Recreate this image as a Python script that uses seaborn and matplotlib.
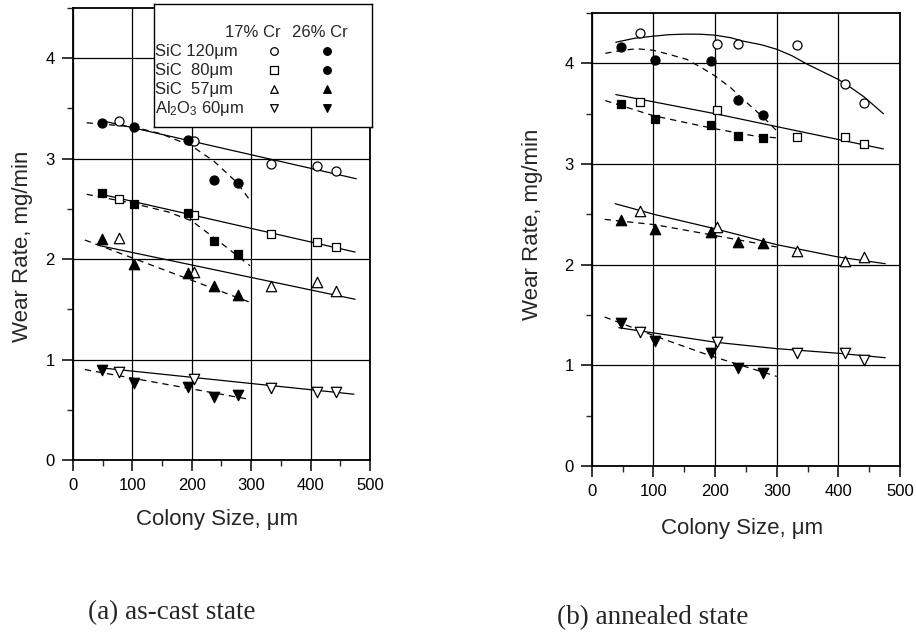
import numpy as np
import pandas as pd
import matplotlib
matplotlib.use('Agg')
import matplotlib.pyplot as plt
import seaborn as sns
from matplotlib.ticker import MultipleLocator

sns.set_style('ticks')
plt.rcParams['font.family'] = ['Liberation Sans', 'DejaVu Sans']
plt.rcParams['mathtext.fontset'] = 'custom'
plt.rcParams['mathtext.rm'] = 'Liberation Sans'
plt.rcParams['mathtext.it'] = 'Liberation Sans:italic'

# colony sizes (um)
size_17 = [78, 203, 333, 411, 442]
size_17_b120 = [78, 203, 237, 333, 411, 442]
size_26 = [48, 102, 193, 237, 278]

grits = ['SiC 120μm', 'SiC  80μm', 'SiC  57μm', 'Al$_2$O$_3$ 60μm']
cr_labels = ['17% Cr', '26% Cr']

# (a) as-cast state, wear rate mg/min
a_sic120_17 = [3.37, 3.18, 2.95, 2.93, 2.88]
a_sic120_26 = [3.35, 3.32, 3.185, 2.79, 2.76]
a_sic80_17 = [2.60, 2.44, 2.25, 2.17, 2.125]
a_sic80_26 = [2.66, 2.545, 2.455, 2.185, 2.05]
a_sic57_17 = [2.21, 1.87, 1.735, 1.775, 1.685]
a_sic57_26 = [2.20, 1.95, 1.865, 1.735, 1.645]
a_al_17 = [0.88, 0.805, 0.715, 0.68, 0.68]
a_al_26 = [0.90, 0.77, 0.73, 0.625, 0.65]

# (b) annealed state
b_sic120_17 = [4.30, 4.19, 4.19, 4.18, 3.80, 3.61]
b_sic120_26 = [4.16, 4.03, 4.02, 3.635, 3.49]
b_sic80_17 = [3.62, 3.54, 3.265, 3.265, 3.195]
b_sic80_26 = [3.60, 3.45, 3.39, 3.28, 3.255]
b_sic57_17 = [2.53, 2.375, 2.135, 2.04, 2.075]
b_sic57_26 = [2.44, 2.355, 2.32, 2.225, 2.215]
b_al_17 = [1.335, 1.23, 1.125, 1.125, 1.055]
b_al_26 = [1.425, 1.245, 1.127, 0.977, 0.927]

# fitted curves (solid = 17% Cr, dashed = 26% Cr)
a_fit = {
    ('SiC120', 17): ([47, 477], [3.38, 2.80]),
    ('SiC120', 26): ([23, 100, 148, 200, 237, 276, 300], [3.357, 3.318, 3.248, 3.125, 2.976, 2.762, 2.569]),
    ('SiC80', 17): ([48, 475], [2.645, 2.07]),
    ('SiC80', 26): ([23, 100, 160, 200, 248, 298], [2.645, 2.556, 2.47, 2.38, 2.166, 1.934]),
    ('SiC57', 17): ([48, 475], [2.13, 1.60]),
    ('SiC57', 26): ([20, 298], [2.19, 1.57]),
    ('Al2O3', 17): ([43, 473], [0.92, 0.655]),
    ('Al2O3', 26): ([20, 296], [0.90, 0.605]),
}
b_fit = {
    ('SiC120', 17): ([39, 70, 100, 125, 149, 175, 200, 225, 246, 275, 300, 325, 350, 375, 400, 420, 441, 458, 473],
                     [4.21, 4.25, 4.27, 4.285, 4.29, 4.29, 4.28, 4.255, 4.22, 4.185, 4.14, 4.075, 3.99, 3.915,
                      3.84, 3.76, 3.67, 3.58, 3.50]),
    ('SiC120', 26): ([22, 50, 73, 100, 125, 154, 180, 200, 225, 246, 266, 284, 300],
                     [4.10, 4.13, 4.145, 4.13, 4.09, 4.04, 3.95, 3.875, 3.76, 3.64, 3.53, 3.43, 3.33]),
    ('SiC80', 17): ([39, 200, 473], [3.69, 3.50, 3.15]),
    ('SiC80', 26): ([22, 100, 200, 263, 300], [3.63, 3.48, 3.35, 3.28, 3.26]),
    ('SiC57', 17): ([38, 103, 200, 300, 400, 476], [2.606, 2.497, 2.357, 2.199, 2.076, 2.01]),
    ('SiC57', 26): ([21, 103, 200, 300], [2.45, 2.397, 2.29, 2.176]),
    ('Al2O3', 17): ([44, 200, 300, 400, 476], [1.374, 1.23, 1.166, 1.12, 1.076]),
    ('Al2O3', 26): ([21, 103, 190, 300], [1.48, 1.29, 1.10, 0.89]),
}

markers = {'SiC120': 'o', 'SiC80': 's', 'SiC57': '^', 'Al2O3': 'v'}
msize = {'o': 6.5, 's': 6.0, '^': 7.5, 'v': 7.5}
# legend symbols (the 26% Cr SiC 80 key is a filled circle in the original)
leg_open = ['o', 's', '^', 'v']
leg_fill = ['o', 'o', '^', 'v']


def points(a_or_b):
    rows = []
    if a_or_b == 'a':
        series = [('SiC120', 17, size_17, a_sic120_17), ('SiC120', 26, size_26, a_sic120_26),
                  ('SiC80', 17, size_17, a_sic80_17), ('SiC80', 26, size_26, a_sic80_26),
                  ('SiC57', 17, size_17, a_sic57_17), ('SiC57', 26, size_26, a_sic57_26),
                  ('Al2O3', 17, size_17, a_al_17), ('Al2O3', 26, size_26, a_al_26)]
    else:
        series = [('SiC120', 17, size_17_b120, b_sic120_17), ('SiC120', 26, size_26, b_sic120_26),
                  ('SiC80', 17, size_17, b_sic80_17), ('SiC80', 26, size_26, b_sic80_26),
                  ('SiC57', 17, size_17, b_sic57_17), ('SiC57', 26, size_26, b_sic57_26),
                  ('Al2O3', 17, size_17, b_al_17), ('Al2O3', 26, size_26, b_al_26)]
    for grit, cr, xs, ys in series:
        for x, y in zip(xs, ys):
            rows.append({'grit': grit, 'cr': cr, 'size': x, 'rate': y})
    return pd.DataFrame(rows)


def draw_panel(ax, df, fits):
    for (grit, cr), (fx, fy) in fits.items():
        ls = '-' if cr == 17 else (0, (5, 4))
        sns.lineplot(x=fx, y=fy, ax=ax, color='black', lw=0.9, linestyle=ls,
                     sort=False, estimator=None, zorder=2)
    for (grit, cr), g in df.groupby(['grit', 'cr']):
        m = markers[grit]
        face = 'white' if cr == 17 else 'black'
        sns.scatterplot(data=g, x='size', y='rate', ax=ax, marker=m, s=msize[m] ** 2,
                        color=face, edgecolor='black', linewidth=0.9, zorder=3, legend=False)

    ax.set_xlim(0, 500)
    ax.set_ylim(0, 4.5)
    ax.xaxis.set_major_locator(MultipleLocator(100))
    ax.xaxis.set_minor_locator(MultipleLocator(50))
    ax.yaxis.set_major_locator(MultipleLocator(1))
    ax.yaxis.set_minor_locator(MultipleLocator(0.5))
    ax.grid(True, which='major', color='black', lw=0.9)
    ax.tick_params(which='major', direction='out', length=8, width=1.1, labelsize=12, colors='black', pad=5)
    ax.tick_params(which='minor', direction='out', length=4, width=1.0)
    for sp in ax.spines.values():
        sp.set_visible(True)
        sp.set_color('black')
        sp.set_linewidth(1.3)
    ax.set_xlabel('Colony Size, μm', fontsize=16)
    ax.set_ylabel('Wear Rate, mg/min', fontsize=16)


fig = plt.figure(figsize=(9.16, 6.33), dpi=100)
ax_a = fig.add_axes([0.0797, 0.2733, 0.3242, 0.7141])
ax_b = fig.add_axes([0.6460, 0.2638, 0.3366, 0.7156])

draw_panel(ax_a, points('a'), a_fit)
draw_panel(ax_b, points('b'), b_fit)

ax_a.xaxis.set_label_coords(0.484, -0.108)
ax_a.yaxis.set_label_coords(-0.135, 0.473)
ax_b.xaxis.set_label_coords(0.489, -0.115)
ax_b.yaxis.set_label_coords(-0.158, 0.534)

# key box in the top right of panel (a), laid out as a small table
ax_leg = ax_a.inset_axes([0.2727, 0.7367, 0.734, 0.272])
ax_leg.set_xlim(0, 218)
ax_leg.set_ylim(123, 0)
ax_leg.set_xticks([])
ax_leg.set_yticks([])
ax_leg.set_facecolor('white')
ax_leg.set_zorder(5)
for sp in ax_leg.spines.values():
    sp.set_visible(True)
    sp.set_color('black')
    sp.set_linewidth(1.0)
row_y = [47, 66, 85, 104]
col_x = {'label': 1.5, '17% Cr': 120, '26% Cr': 173}
ax_leg.text(99, 28, cr_labels[0], ha='center', va='center', fontsize=12)
ax_leg.text(166, 28, cr_labels[1], ha='center', va='center', fontsize=12)
for y, label, mo, mf in zip(row_y, grits, leg_open, leg_fill):
    ax_leg.text(col_x['label'], y, label, ha='left', va='center', fontsize=12)
    sns.scatterplot(x=[col_x['17% Cr']], y=[y], ax=ax_leg, marker=mo, s=30,
                    color='white', edgecolor='black', linewidth=0.9, legend=False)
    sns.scatterplot(x=[col_x['26% Cr']], y=[y], ax=ax_leg, marker=mf, s=30,
                    color='black', edgecolor='black', linewidth=0.9, legend=False)
ax_leg.set_xlabel('')
ax_leg.set_ylabel('')

fig.text(0.096, 0.032, '(a) as-cast state', family=['Liberation Serif', 'DejaVu Serif'],
         fontsize=19.5, ha='left', va='center')
fig.text(0.608, 0.024, '(b) annealed state', family=['Liberation Serif', 'DejaVu Serif'],
         fontsize=19.5, ha='left', va='center')

fig.savefig('out.png', dpi=100)
